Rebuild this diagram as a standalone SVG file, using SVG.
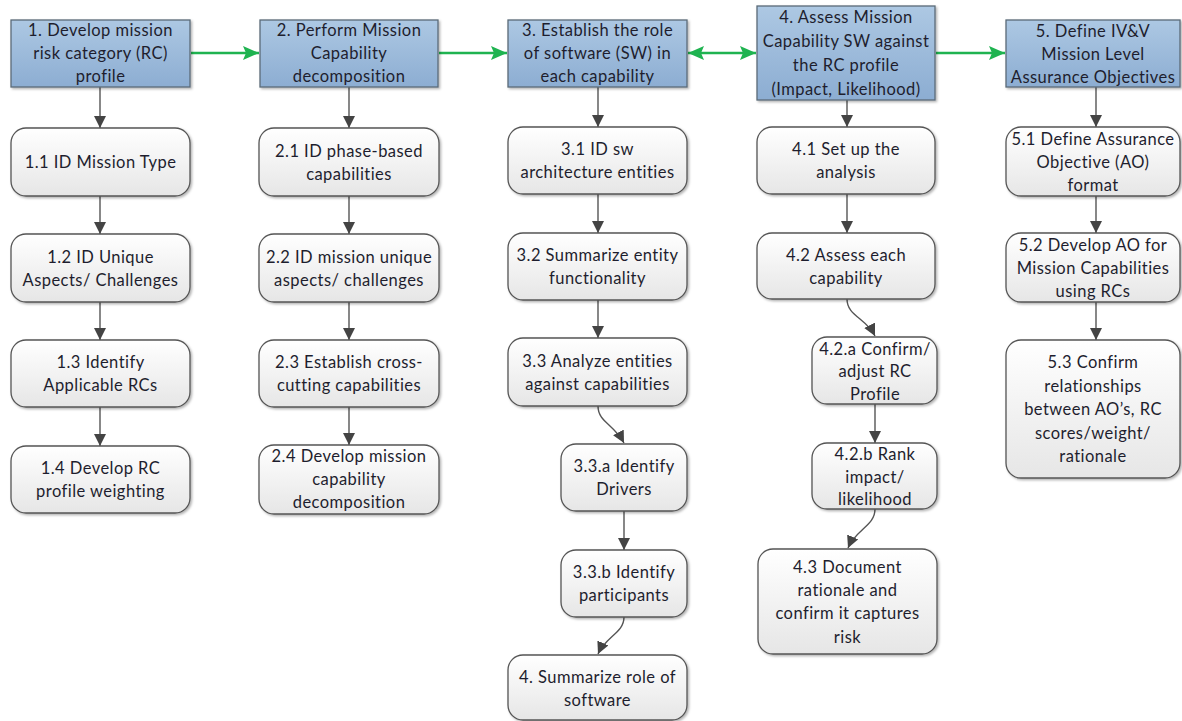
<svg xmlns="http://www.w3.org/2000/svg" width="1182" height="721" viewBox="0 0 1182 721">
  <defs>
    <linearGradient id="gTop" x1="0" y1="0" x2="0" y2="1">
      <stop offset="0" stop-color="#adc8e3"/>
      <stop offset="1" stop-color="#8cadd2"/>
    </linearGradient>
    <linearGradient id="gSub" x1="0" y1="0" x2="0" y2="1">
      <stop offset="0" stop-color="#ffffff"/>
      <stop offset="1" stop-color="#e6e6e6"/>
    </linearGradient>
    <filter id="shadow" x="-10%" y="-10%" width="120%" height="130%">
      <feDropShadow dx="1.5" dy="1.5" stdDeviation="1" flood-color="#000" flood-opacity="0.3"/>
    </filter>
    <marker id="arrDark" markerUnits="userSpaceOnUse" markerWidth="14" markerHeight="14" refX="12" refY="6" orient="auto">
      <path d="M0,0 L12,6 L0,12 Z" fill="#444"/>
    </marker>
    <marker id="arrGreen" markerUnits="userSpaceOnUse" markerWidth="18" markerHeight="16" refX="16" refY="7" orient="auto">
      <path d="M0,0 L16,7 L0,14 L3,7 Z" fill="#1fb350"/>
    </marker>
    <marker id="arrGreenStart" markerUnits="userSpaceOnUse" markerWidth="18" markerHeight="16" refX="0" refY="7" orient="auto">
      <path d="M16,0 L0,7 L16,14 L13,7 Z" fill="#1fb350"/>
    </marker>
  </defs>
  <style>
    .top { fill: url(#gTop); stroke: #5b6a78; stroke-width: 1.3; filter: url(#shadow); }
    .sub { fill: url(#gSub); stroke: #555; stroke-width: 1.3; filter: url(#shadow); }
    text { font-family: Lato, "Open Sans", "Liberation Sans", sans-serif; font-size: 16.5px; letter-spacing: 0.45px; fill: #1e1e2e; text-anchor: middle; dominant-baseline: central; }
    .link { stroke: #555; stroke-width: 1.4; fill: none; marker-end: url(#arrDark); }
    .flow { stroke: #1fb350; stroke-width: 2.5; fill: none; marker-end: url(#arrGreen); }
  </style>

  <rect width="1182" height="721" fill="#ffffff"/>

  <!-- connectors -->
  <g id="connectors">
    <!-- main flow between phases -->
    <line class="flow" x1="191" y1="53" x2="259" y2="53"/>
    <line class="flow" x1="439" y1="53" x2="507" y2="53"/>
    <line class="flow" x1="688" y1="53" x2="756" y2="53" marker-start="url(#arrGreenStart)"/>
    <line class="flow" x1="936" y1="53" x2="1005" y2="53"/>
    <!-- column 1 -->
    <line class="link" x1="100" y1="87" x2="100" y2="128"/>
    <line class="link" x1="100" y1="196" x2="100" y2="234"/>
    <line class="link" x1="100" y1="302" x2="100" y2="340"/>
    <line class="link" x1="100" y1="407" x2="100" y2="446"/>
    <!-- column 2 -->
    <line class="link" x1="349" y1="87" x2="349" y2="128"/>
    <line class="link" x1="349" y1="196" x2="349" y2="234"/>
    <line class="link" x1="349" y1="302" x2="349" y2="340"/>
    <line class="link" x1="349" y1="407" x2="349" y2="445"/>
    <!-- column 3 -->
    <line class="link" x1="598" y1="87" x2="598" y2="127"/>
    <line class="link" x1="598" y1="194" x2="598" y2="233"/>
    <line class="link" x1="598" y1="300" x2="598" y2="338"/>
    <path class="link" d="M598,406 C598,422 614,424 624,443"/>
    <line class="link" x1="624" y1="511" x2="624" y2="550"/>
    <path class="link" d="M624,617 C624,633 606,636 598,654"/>
    <!-- column 4 -->
    <line class="link" x1="847" y1="100" x2="847" y2="127"/>
    <line class="link" x1="847" y1="194" x2="847" y2="233"/>
    <path class="link" d="M847,299 C847,316 866,318 875,336"/>
    <line class="link" x1="875" y1="404" x2="875" y2="443"/>
    <path class="link" d="M875,509 C875,526 856,529 848,548"/>
    <!-- column 5 -->
    <line class="link" x1="1096" y1="87" x2="1096" y2="127"/>
    <line class="link" x1="1096" y1="196" x2="1096" y2="233"/>
    <line class="link" x1="1096" y1="302" x2="1096" y2="340"/>
  </g>

  <!-- phase headers -->
  <g id="phase1">
    <rect class="top" x="11" y="20" width="179" height="67"/>
    <text x="100.5" y="30">1. Develop mission</text>
    <text x="100.5" y="53">risk category (RC)</text>
    <text x="100.5" y="76">profile</text>
  </g>
  <g id="phase2">
    <rect class="top" x="260" y="20" width="178" height="67"/>
    <text x="349" y="30">2. Perform Mission</text>
    <text x="349" y="53">Capability</text>
    <text x="349" y="76">decomposition</text>
  </g>
  <g id="phase3">
    <rect class="top" x="508" y="20" width="179" height="67"/>
    <text x="597.5" y="30">3. Establish the role</text>
    <text x="597.5" y="53">of software (SW)  in</text>
    <text x="597.5" y="76">each capability</text>
  </g>
  <g id="phase4">
    <rect class="top" x="757" y="6" width="178" height="94"/>
    <text x="846" y="17">4. Assess Mission</text>
    <text x="846" y="41">Capability SW against</text>
    <text x="846" y="65">the RC profile</text>
    <text x="846" y="89">(Impact, Likelihood)</text>
  </g>
  <g id="phase5">
    <rect class="top" x="1006" y="20" width="174" height="67"/>
    <text x="1093" y="31">5. Define IV&amp;V</text>
    <text x="1093" y="54">Mission Level</text>
    <text x="1093" y="77">Assurance Objectives</text>
  </g>

  <!-- column 1 steps -->
  <g id="step1-1">
    <rect class="sub" x="11" y="128" width="179" height="68" rx="15"/>
    <text x="100.5" y="162">1.1 ID Mission Type</text>
  </g>
  <g id="step1-2">
    <rect class="sub" x="11" y="234" width="179" height="68" rx="15"/>
    <text x="100.5" y="256.5">1.2 ID Unique</text>
    <text x="100.5" y="279.5">Aspects/ Challenges</text>
  </g>
  <g id="step1-3">
    <rect class="sub" x="11" y="340" width="179" height="67" rx="15"/>
    <text x="100.5" y="362">1.3 Identify</text>
    <text x="100.5" y="385">Applicable RCs</text>
  </g>
  <g id="step1-4">
    <rect class="sub" x="11" y="446" width="179" height="67" rx="15"/>
    <text x="100.5" y="468">1.4 Develop RC</text>
    <text x="100.5" y="491">profile weighting</text>
  </g>

  <!-- column 2 steps -->
  <g id="step2-1">
    <rect class="sub" x="259" y="128" width="180" height="68" rx="15"/>
    <text x="349" y="150.5">2.1 ID phase-based</text>
    <text x="349" y="173.5">capabilities</text>
  </g>
  <g id="step2-2">
    <rect class="sub" x="259" y="234" width="180" height="68" rx="15"/>
    <text x="349" y="256.5">2.2 ID mission unique</text>
    <text x="349" y="279.5">aspects/ challenges</text>
  </g>
  <g id="step2-3">
    <rect class="sub" x="259" y="340" width="180" height="67" rx="15"/>
    <text x="349" y="362">2.3 Establish cross-</text>
    <text x="349" y="385">cutting capabilities</text>
  </g>
  <g id="step2-4">
    <rect class="sub" x="259" y="445" width="180" height="69" rx="15"/>
    <text x="349" y="456">2.4 Develop mission</text>
    <text x="349" y="479">capability</text>
    <text x="349" y="502">decomposition</text>
  </g>

  <!-- column 3 steps -->
  <g id="step3-1">
    <rect class="sub" x="508" y="127" width="179" height="67" rx="15"/>
    <text x="597.5" y="149">3.1 ID sw</text>
    <text x="597.5" y="172">architecture entities</text>
  </g>
  <g id="step3-2">
    <rect class="sub" x="508" y="233" width="179" height="67" rx="15"/>
    <text x="597.5" y="255">3.2 Summarize entity</text>
    <text x="597.5" y="278">functionality</text>
  </g>
  <g id="step3-3">
    <rect class="sub" x="508" y="338" width="179" height="68" rx="15"/>
    <text x="597.5" y="360.5">3.3 Analyze entities</text>
    <text x="597.5" y="383.5">against capabilities</text>
  </g>
  <g id="step3-3a">
    <rect class="sub" x="561" y="444" width="126" height="67" rx="15"/>
    <text x="624" y="466">3.3.a Identify</text>
    <text x="624" y="489">Drivers</text>
  </g>
  <g id="step3-3b">
    <rect class="sub" x="561" y="550" width="126" height="67" rx="15"/>
    <text x="624" y="572">3.3.b Identify</text>
    <text x="624" y="595">participants</text>
  </g>
  <g id="step3-4">
    <rect class="sub" x="508" y="655" width="179" height="65" rx="15"/>
    <text x="597.5" y="677">4. Summarize role of</text>
    <text x="597.5" y="700">software</text>
  </g>

  <!-- column 4 steps -->
  <g id="step4-1">
    <rect class="sub" x="757" y="127" width="178" height="67" rx="15"/>
    <text x="846" y="149">4.1 Set up the</text>
    <text x="846" y="172">analysis</text>
  </g>
  <g id="step4-2">
    <rect class="sub" x="757" y="233" width="178" height="66" rx="15"/>
    <text x="846" y="254.5">4.2 Assess each</text>
    <text x="846" y="277.5">capability</text>
  </g>
  <g id="step4-2a">
    <rect class="sub" x="812" y="337" width="125" height="67" rx="15"/>
    <text x="875" y="348.5">4.2.a Confirm/</text>
    <text x="875" y="371">adjust RC</text>
    <text x="875" y="393.5">Profile</text>
  </g>
  <g id="step4-2b">
    <rect class="sub" x="812" y="443" width="125" height="66" rx="15"/>
    <text x="875" y="454">4.2.b Rank</text>
    <text x="875" y="476.5">impact/</text>
    <text x="875" y="499">likelihood</text>
  </g>
  <g id="step4-3">
    <rect class="sub" x="758" y="549" width="179" height="105" rx="15"/>
    <text x="847.5" y="566.5">4.3 Document</text>
    <text x="847.5" y="590">rationale and</text>
    <text x="847.5" y="613">confirm it captures</text>
    <text x="847.5" y="636.5">risk</text>
  </g>

  <!-- column 5 steps -->
  <g id="step5-1">
    <rect class="sub" x="1006" y="127" width="174" height="69" rx="15"/>
    <text x="1093" y="139">5.1 Define Assurance</text>
    <text x="1093" y="162">Objective (AO)</text>
    <text x="1093" y="185">format</text>
  </g>
  <g id="step5-2">
    <rect class="sub" x="1006" y="233" width="174" height="69" rx="15"/>
    <text x="1093" y="245">5.2 Develop AO for</text>
    <text x="1093" y="268">Mission Capabilities</text>
    <text x="1093" y="291">using RCs</text>
  </g>
  <g id="step5-3">
    <rect class="sub" x="1006" y="340" width="174" height="138" rx="15"/>
    <text x="1093" y="362">5.3 Confirm</text>
    <text x="1093" y="385.5">relationships</text>
    <text x="1093" y="409">between AO’s, RC</text>
    <text x="1093" y="432.5">scores/weight/</text>
    <text x="1093" y="456">rationale</text>
  </g>
</svg>
